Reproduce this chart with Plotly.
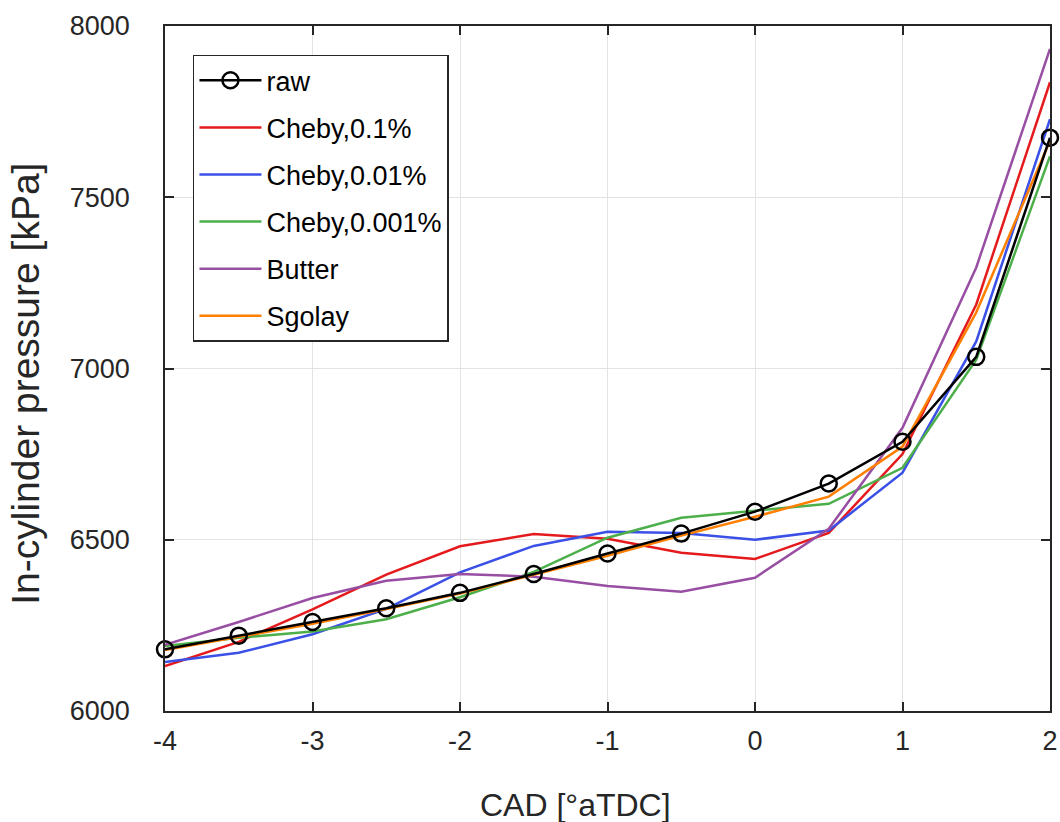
import plotly.graph_objects as go

# Crank angle (deg after TDC) and in-cylinder pressure (kPa) per filter
cad = [-4, -3.5, -3, -2.5, -2, -1.5, -1, -0.5, 0, 0.5, 1, 1.5, 2]
raw = [6180, 6220, 6260, 6300, 6345, 6400, 6460, 6518, 6582, 6664, 6786, 7034, 7674]
cheby_01 = [6131, 6202, 6297, 6398, 6481, 6517, 6503, 6462, 6444, 6520, 6750, 7187, 7836]
cheby_001 = [6143, 6170, 6224, 6298, 6405, 6482, 6523, 6520, 6500, 6527, 6696, 7079, 7728]
cheby_0001 = [6190, 6214, 6232, 6268, 6332, 6406, 6506, 6564, 6585, 6605, 6710, 7026, 7620]
butter = [6193, 6260, 6330, 6380, 6400, 6392, 6365, 6348, 6389, 6532, 6827, 7295, 7933]
sgolay = [6178, 6216, 6255, 6298, 6343, 6398, 6453, 6512, 6567, 6626, 6772, 7164, 7665]

x_ticks = [-4, -3, -2, -1, 0, 1, 2]
y_ticks = [6000, 6500, 7000, 7500, 8000]

series = [
    ("Cheby,0.1%", cheby_01, "#e41a1c"),
    ("Cheby,0.01%", cheby_001, "#3a50e6"),
    ("Cheby,0.001%", cheby_0001, "#4daf4a"),
    ("Butter", butter, "#984ea3"),
    ("Sgolay", sgolay, "#ff7f00"),
]

fig = go.Figure()
for rank, (name, vals, col) in enumerate(series, start=2):
    fig.add_trace(go.Scatter(
        x=cad, y=vals, name=name, mode="lines",
        line=dict(color=col, width=2.5), cliponaxis=False,
        legendgroup=name, legendrank=rank,
    ))
# raw data drawn last so it sits on top, but listed first in the legend
fig.add_trace(go.Scatter(
    x=cad, y=raw, name="raw", mode="lines+markers",
    line=dict(color="black", width=2.5),
    marker=dict(symbol="circle-open", size=16, color="black", line=dict(width=2.5)),
    cliponaxis=False, legendgroup="raw", legendrank=1,
))

axis_col = "#262626"
common = dict(
    showline=True, linecolor=axis_col, linewidth=1.5, mirror="allticks",
    ticks="inside", ticklen=9, tickcolor=axis_col, tickwidth=1.5,
    showgrid=True, gridcolor="#e3e3e3", gridwidth=1, zeroline=False,
    automargin=False,
    tickfont=dict(family="Liberation Sans, Arial", size=27, color=axis_col),
)

fig.update_layout(
    width=1060, height=822,
    margin=dict(l=165, r=10, t=26, b=111),
    paper_bgcolor="white", plot_bgcolor="white",
    xaxis=dict(range=[-4, 2], tickvals=x_ticks,
               ticktext=[str(v) for v in x_ticks], ticklabelstandoff=5,
               **common),
    yaxis=dict(range=[6000, 8000], tickvals=y_ticks,
               ticktext=[str(v) for v in y_ticks], ticklabelstandoff=28,
               **common),
    legend=dict(
        x=0.0316, y=0.958, xanchor="left", yanchor="top",
        bgcolor="white", bordercolor=axis_col, borderwidth=1.5,
        font=dict(family="Liberation Sans, Arial", size=27, color="black"),
        tracegroupgap=9, itemwidth=62, traceorder="grouped",
        entrywidth=200, entrywidthmode="pixels",
    ),
    annotations=[
        dict(text="CAD [°aTDC]", xref="paper", yref="paper",
             x=0.464, y=-0.137, xanchor="center", yanchor="middle",
             showarrow=False,
             font=dict(family="Liberation Sans, Arial", size=32, color=axis_col)),
        dict(text="In-cylinder pressure [kPa]", xref="paper", yref="paper",
             x=-0.158, y=0.478, xanchor="center", yanchor="middle",
             textangle=-90, showarrow=False,
             font=dict(family="Liberation Sans, Arial", size=39, color=axis_col)),
    ],
)

fig.write_html("out.html")
